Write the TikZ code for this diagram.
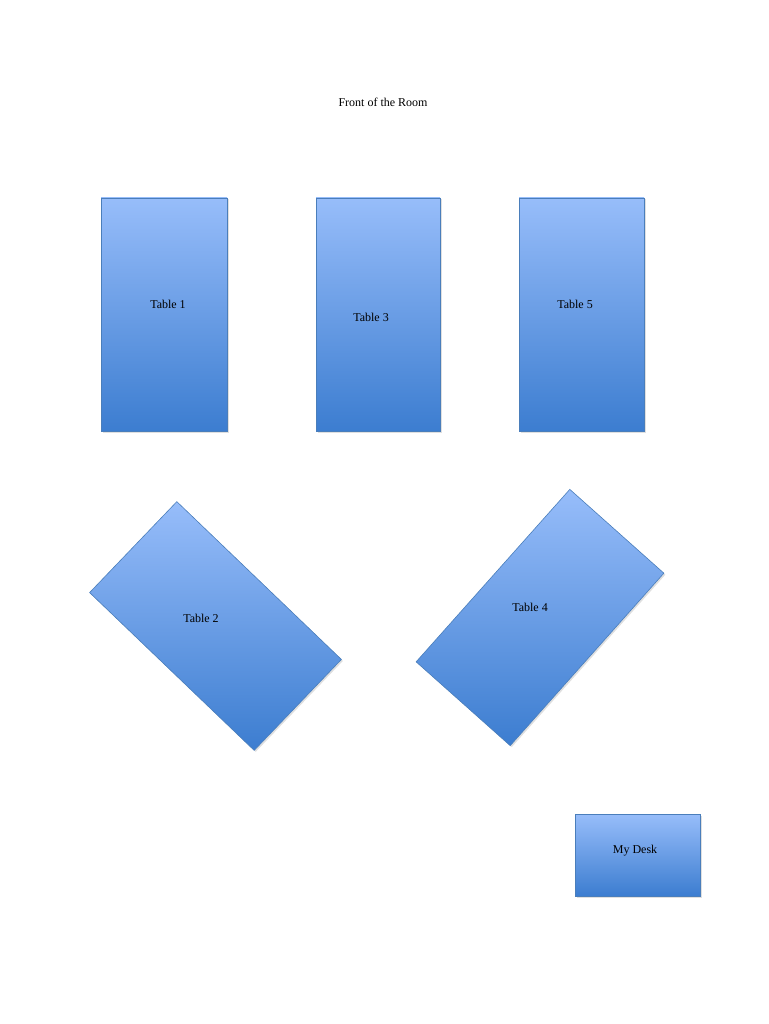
\documentclass[tikz,border=0pt]{standalone}
\usepackage{fontspec}
\setmainfont{Liberation Serif}
\usetikzlibrary{shadows}
\definecolor{lightb}{HTML}{97BDFA}
\definecolor{darkb}{HTML}{3C7DD0}
\definecolor{edgeb}{HTML}{4A7EBB}
\begin{document}
\begin{tikzpicture}[x=1pt,y=-1pt,
  tbl/.style={draw=edgeb,line width=0.6pt,top color=lightb,bottom color=darkb,inner sep=0pt,
    drop shadow={opacity=0.25,shadow xshift=1.5pt,shadow yshift=-1.5pt}},
  lbl/.style={font=\fontsize{12}{14}\selectfont}]
\useasboundingbox (0,0) rectangle (768,1024);
\node[lbl] (title) at (383,102) {Front of the Room};
\node[tbl,minimum width=126pt,minimum height=233pt] (t1) at (164,314.5) {};
\node[tbl,minimum width=124pt,minimum height=233pt] (t3) at (378,314.5) {};
\node[tbl,minimum width=125pt,minimum height=233pt] (t5) at (581.5,314.5) {};
\node[tbl,minimum width=126pt,minimum height=228pt,rotate=46.2] (t2) at (215.5,626) {};
\node[tbl,minimum width=126pt,minimum height=231pt,rotate=-41.7] (t4) at (540,617.5) {};
\node[tbl,minimum width=125pt,minimum height=82pt] (desk) at (637.5,855) {};
\node[lbl] at (168,304) {Table 1};
\node[lbl] at (371,317) {Table 3};
\node[lbl] at (575,304) {Table 5};
\node[lbl] at (201,618) {Table 2};
\node[lbl] at (530,607) {Table 4};
\node[lbl] at (635,851) {My Desk};
\end{tikzpicture}
\end{document}
